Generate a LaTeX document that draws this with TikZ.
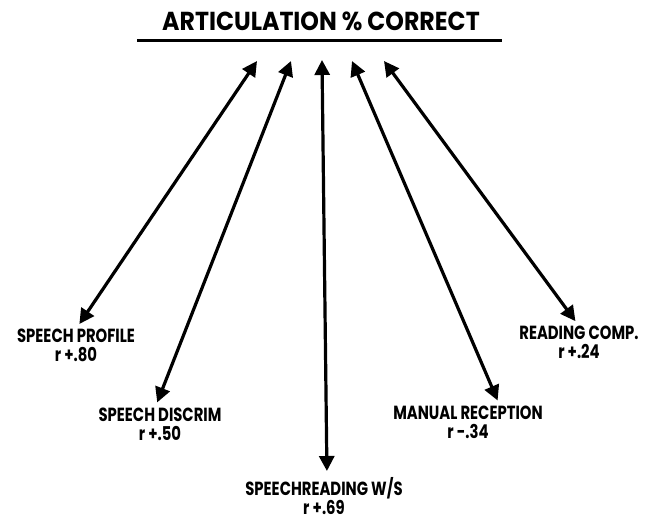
\documentclass[tikz,border=0pt]{standalone}
\usepackage{fontspec}
\setmainfont{Poppins}
\newfontfamily\labfont[FakeStretch=0.78]{Poppins}
\newfontfamily\headfont[FakeStretch=0.91]{Poppins}
\usetikzlibrary{arrows.meta, positioning}

\begin{document}
\begin{tikzpicture}[x=1pt, y=1pt,
  label/.style={inner sep=0pt, anchor=north, align=center, text depth=0pt,
                font=\labfont\bfseries\fontsize{19}{19}\selectfont},
  heading/.style={inner sep=0pt, anchor=north, font=\headfont\bfseries\fontsize{26}{28}\selectfont},
  darrow/.style={{Triangle[length=15pt, width=15pt]}-{Triangle[length=15pt, width=15pt]},
                 line width=3.2pt, shorten >=6pt},
]
  \useasboundingbox (0,0) rectangle (648,-518);

  % Title
  \node[heading] (title) at (321,-12) {ARTICULATION \% CORRECT};
  \coordinate (ulL) at (137,-41);
  \coordinate (ulR) at (502,-41);
  \draw[line width=3pt] (ulL) -- (ulR);

  % Arrow ends under the title
  \coordinate (t1) at (257,-61);
  \coordinate (t2) at (291,-61);
  \coordinate (t3) at (322,-60);
  \coordinate (t4) at (352,-61);
  \coordinate (t5) at (384,-61);

  % Measures
  \node[label] (profile)  at (76,-329)  {SPEECH PROFILE\\r +.80};
  \node[label] (discrim)  at (160,-408) {SPEECH DISCRIM\\r +.50};
  \node[label] (sread)    at (324,-477) {SPEECHREADING W/S\\r +.69};
  \node[label] (manual)   at (468,-406) {MANUAL RECEPTION\\r -.34};
  \node[label] (reading)  at (579,-326) {READING COMP.\\r +.24};

  % Arrows
  \draw[darrow] (t1) -- (profile.north);
  \draw[darrow] (t2) -- ([xshift=-5pt]discrim.north);
  \draw[darrow] (t3) -- ([xshift=3pt]sread.north);
  \draw[darrow] (t4) -- ([xshift=32pt]manual.north);
  \draw[darrow] (t5) -- (reading.north);
\end{tikzpicture}
\end{document}
